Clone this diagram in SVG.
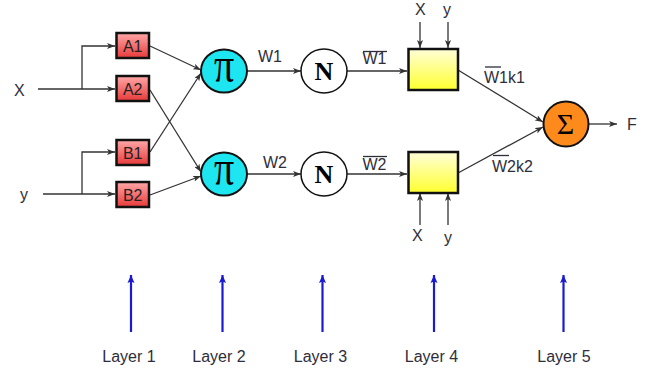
<svg xmlns="http://www.w3.org/2000/svg" width="651" height="371" viewBox="0 0 651 371">
<defs>
  <linearGradient id="gRed" x1="0" y1="0" x2="0" y2="1">
    <stop offset="0" stop-color="#ffa8a8"/>
    <stop offset="1" stop-color="#e83a3a"/>
  </linearGradient>
  <linearGradient id="gYel" x1="0" y1="0" x2="0" y2="1">
    <stop offset="0" stop-color="#ffffd8"/>
    <stop offset="1" stop-color="#ffff30"/>
  </linearGradient>
  <marker id="ah" viewBox="0 0 8 6" refX="8" refY="3" markerWidth="8" markerHeight="6" markerUnits="userSpaceOnUse" orient="auto">
    <path d="M0,0 L8,3 L0,6 L2,3 z" fill="#333"/>
  </marker>
  <marker id="ahb" viewBox="0 0 8 8" refX="8" refY="4" markerWidth="8" markerHeight="8" markerUnits="userSpaceOnUse" orient="auto">
    <path d="M0,0.5 L8,4 L0,7.5 L1.5,4 z" fill="#1a1ad0"/>
  </marker>
</defs>
<style>
  .ln { fill: none; stroke: #333; stroke-width: 1.3; }
  .lay { fill: none; stroke: #1a1ad0; stroke-width: 2.2; }
  .lbl { font-family: "Liberation Sans", Arial, sans-serif; font-size: 16px; fill: #2e2e3a; }
  .box { stroke: #111; stroke-width: 2.5; }
  .ov { stroke: #2e2e3a; stroke-width: 1.3; }
  .sym { font-family: "Liberation Serif", "Times New Roman", serif; fill: #000; text-anchor: middle; }
</style>

<g id="connectors">
  <path class="ln" d="M38,89 H115" marker-end="url(#ah)"/>
  <path class="ln" d="M82,89 V46 H115" marker-end="url(#ah)"/>
  <path class="ln" d="M43,194 H115" marker-end="url(#ah)"/>
  <path class="ln" d="M82,194 V152 H115" marker-end="url(#ah)"/>
  <path class="ln" d="M150,46 L201,70" marker-end="url(#ah)"/>
  <path class="ln" d="M150,90 L201,172" marker-end="url(#ah)"/>
  <path class="ln" d="M150,152 L201,73" marker-end="url(#ah)"/>
  <path class="ln" d="M150,195 L201,176" marker-end="url(#ah)"/>
  <path class="ln" d="M247,71 H301" marker-end="url(#ah)"/>
  <path class="ln" d="M247,174 H301" marker-end="url(#ah)"/>
  <path class="ln" d="M347,71 H407" marker-end="url(#ah)"/>
  <path class="ln" d="M347,174 H407" marker-end="url(#ah)"/>
  <path class="ln" d="M458,70 L543,122" marker-end="url(#ah)"/>
  <path class="ln" d="M458,173 L543,127" marker-end="url(#ah)"/>
  <path class="ln" d="M589,124 H617" marker-end="url(#ah)"/>
  <path class="ln" d="M420,22 V48" marker-end="url(#ah)"/>
  <path class="ln" d="M448,22 V48" marker-end="url(#ah)"/>
  <path class="ln" d="M420,225 V193" marker-end="url(#ah)"/>
  <path class="ln" d="M448,225 V193" marker-end="url(#ah)"/>
  <path class="lay" d="M131,332 V275" marker-end="url(#ahb)"/>
  <path class="lay" d="M222.5,332 V275" marker-end="url(#ahb)"/>
  <path class="lay" d="M322.5,332 V275" marker-end="url(#ahb)"/>
  <path class="lay" d="M434,332 V275" marker-end="url(#ahb)"/>
  <path class="lay" d="M563.5,332 V275" marker-end="url(#ahb)"/>
</g>

<g id="inputs">
  <text class="lbl" x="14" y="96">X</text>
  <text class="lbl" x="20" y="200">y</text>
  <text class="lbl" x="415" y="15">X</text>
  <text class="lbl" x="443" y="15">y</text>
  <text class="lbl" x="412" y="241">X</text>
  <text class="lbl" x="444" y="243">y</text>
  <text class="lbl" x="627" y="130">F</text>
</g>

<g id="A1"><rect class="box" x="116.5" y="33" width="32.5" height="25" fill="url(#gRed)"/><text class="lbl" x="132.7" y="51.5" text-anchor="middle" style="fill:#222">A1</text></g>
<g id="A2"><rect class="box" x="116.5" y="76" width="32.5" height="25" fill="url(#gRed)"/><text class="lbl" x="132.7" y="94.5" text-anchor="middle" style="fill:#222">A2</text></g>
<g id="B1"><rect class="box" x="116.5" y="140" width="32.5" height="25" fill="url(#gRed)"/><text class="lbl" x="132.7" y="158.5" text-anchor="middle" style="fill:#222">B1</text></g>
<g id="B2"><rect class="box" x="116.5" y="182" width="32.5" height="25" fill="url(#gRed)"/><text class="lbl" x="132.7" y="200.5" text-anchor="middle" style="fill:#222">B2</text></g>

<g id="Pi1"><ellipse cx="224" cy="71" rx="23" ry="21.5" fill="#1ee6f0" stroke="#111" stroke-width="2"/><text class="sym" font-size="40" transform="translate(224,82) scale(1,1.25)">π</text></g>
<g id="Pi2"><ellipse cx="224" cy="174" rx="23" ry="21.5" fill="#1ee6f0" stroke="#111" stroke-width="2"/><text class="sym" font-size="40" transform="translate(224,185) scale(1,1.25)">π</text></g>

<g id="N1"><ellipse cx="324" cy="71" rx="23" ry="22" fill="#fff" stroke="#111" stroke-width="1.5"/><text class="sym" font-size="26" font-weight="bold" x="324" y="80">N</text></g>
<g id="N2"><ellipse cx="324" cy="174" rx="23" ry="22" fill="#fff" stroke="#111" stroke-width="1.5"/><text class="sym" font-size="26" font-weight="bold" x="324" y="183">N</text></g>

<g id="R1"><rect class="box" x="408.5" y="49" width="49.5" height="41" fill="url(#gYel)"/></g>
<g id="R2"><rect class="box" x="408.5" y="152" width="49.5" height="41" fill="url(#gYel)"/></g>

<g id="Sigma"><circle cx="566" cy="124" r="22.5" fill="#ff8a1c" stroke="#111" stroke-width="2"/><text class="sym" font-size="30" x="565.5" y="134">Σ</text></g>

<g id="labels">
  <text class="lbl" x="258" y="62">W1</text>
  <text class="lbl" x="263" y="168">W2</text>
  <text class="lbl" x="362.5" y="64">W1</text>
  <line class="ov" x1="363" y1="51.5" x2="387" y2="51.5"/>
  <text class="lbl" x="362.5" y="170">W2</text>
  <line class="ov" x1="363" y1="156.5" x2="387" y2="156.5"/>
  <text class="lbl" x="484" y="83">W1k1</text>
  <line class="ov" x1="485" y1="67" x2="501" y2="67"/>
  <text class="lbl" x="492" y="171.5">W2k2</text>
  <line class="ov" x1="493" y1="155.5" x2="509" y2="155.5"/>
</g>

<g id="layers">
  <text class="lbl" x="129" y="362" text-anchor="middle">Layer 1</text>
  <text class="lbl" x="219" y="362" text-anchor="middle">Layer 2</text>
  <text class="lbl" x="320.5" y="362" text-anchor="middle">Layer 3</text>
  <text class="lbl" x="431.5" y="362" text-anchor="middle">Layer 4</text>
  <text class="lbl" x="564" y="362" text-anchor="middle">Layer 5</text>
</g>
</svg>
